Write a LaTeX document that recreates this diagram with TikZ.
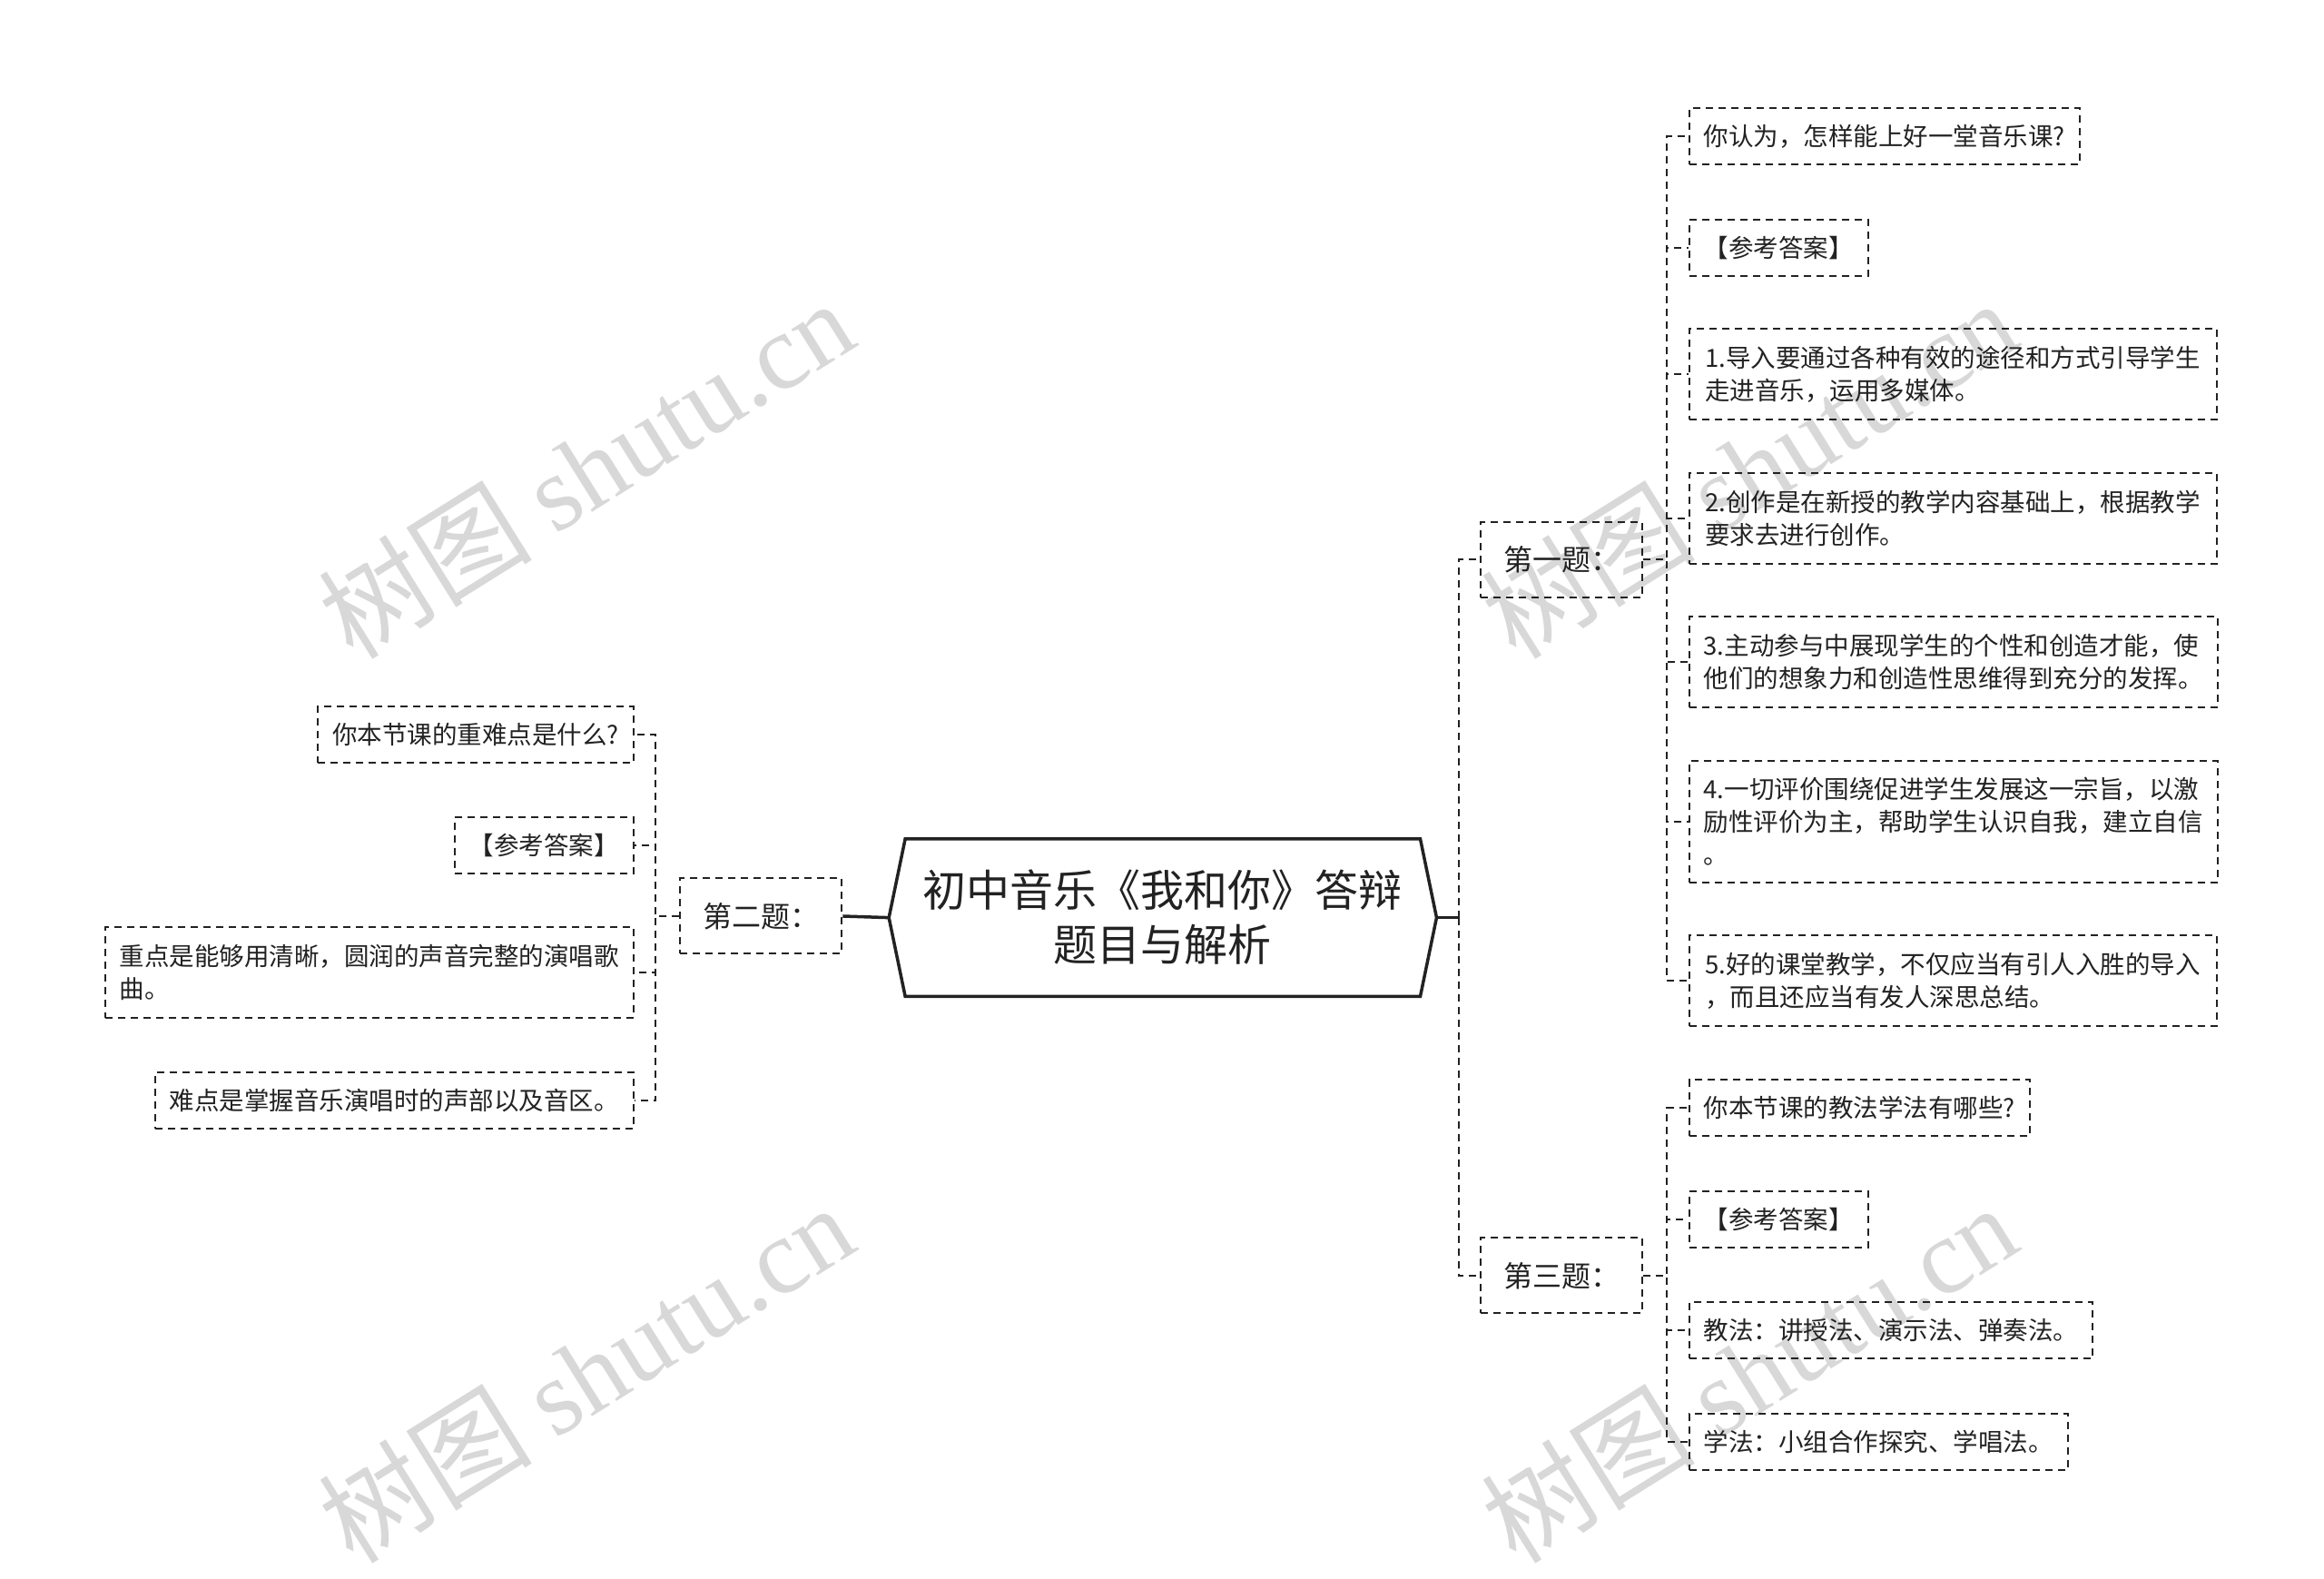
\documentclass[tikz,border=0pt]{standalone}
\usepackage{fontspec}
\setmainfont{Noto Sans CJK SC}
\newfontfamily\wmlatin{Liberation Serif}
\usetikzlibrary{calc}
\definecolor{ink}{HTML}{222222}
\definecolor{wmgray}{HTML}{D8D8D8}
\tikzset{
  leaf/.style={draw=ink, line width=2bp, dash pattern=on 8bp off 6bp, text=ink,
    font=\fontsize{27.5bp}{36bp}\selectfont, inner xsep=16bp, inner ysep=0pt,
    minimum height=62bp, align=left},
  twoline/.style={leaf, minimum width=581bp, minimum height=100bp},
  threeline/.style={leaf, minimum width=581bp, minimum height=134bp},
  branch/.style={draw=ink, line width=2bp, dash pattern=on 8bp off 6bp, text=ink,
    font=\fontsize{32bp}{36bp}\selectfont, inner sep=0pt,
    minimum width=178bp, minimum height=83bp},
  rootnode/.style={text=ink, font=\fontsize{48bp}{60bp}\selectfont, align=center,
    inner sep=0pt, minimum width=567bp, minimum height=173bp},
  hexline/.style={draw=ink, line width=3.5bp, line join=miter},
  conn/.style={draw=ink, line width=2bp, dash pattern=on 8bp off 6bp},
  trunk/.style={draw=ink, line width=3.5bp},
  wmark/.style={text=wmgray, rotate=32, inner sep=0pt}
}
\begin{document}
\begin{tikzpicture}[x=1.6327bp, y=-1.6327bp]
\fill[white] (0,0) rectangle (1568,1065);
\useasboundingbox (0,0) rectangle (1568,1065);

% watermarks
\node[wmark] (wm1) at (395,316) {\fontsize{118bp}{120bp}\selectfont 树图 {\wmlatin shutu.cn}};
\node[wmark] (wm2) at (395,926) {\fontsize{118bp}{120bp}\selectfont 树图 {\wmlatin shutu.cn}};
\node[wmark] (wm3) at (1180,316) {\fontsize{118bp}{120bp}\selectfont 树图 {\wmlatin shutu.cn}};
\node[wmark] (wm4) at (1180,926) {\fontsize{118bp}{120bp}\selectfont 树图 {\wmlatin shutu.cn}};

% root
\node[rootnode] (c) at (784.5,619) {初中音乐《我和你》答辩\\题目与解析};
\coordinate (cw) at ($(c.west)+(-11,0)$);
\coordinate (ce) at ($(c.east)+(11,0)$);
\draw[hexline] (c.north west) -- (c.north east) -- (ce) -- (c.south east) -- (c.south west) -- (cw) -- cycle;

% branches
\node[branch] (b1) at (1053.5,377.5) {第一题：};
\node[branch] (b2) at (513.5,618) {第二题：};
\node[branch] (b3) at (1053.5,860.5) {第三题：};

% first question children
\node[leaf, anchor=west] (r1) at (1139,92) {你认为，怎样能上好一堂音乐课?};
\node[leaf, anchor=west] (r2) at (1139,167) {【参考答案】};
\node[twoline, anchor=west] (r3) at (1139,252.5) {1.导入要通过各种有效的途径和方式引导学生\\走进音乐，运用多媒体。};
\node[twoline, anchor=west] (r4) at (1139,349.5) {2.创作是在新授的教学内容基础上，根据教学\\要求去进行创作。};
\node[twoline, anchor=west] (r5) at (1139,446.5) {3.主动参与中展现学生的个性和创造才能，使\\他们的想象力和创造性思维得到充分的发挥。};
\node[threeline, anchor=west] (r6) at (1139,554) {4.一切评价围绕促进学生发展这一宗旨，以激\\励性评价为主，帮助学生认识自我，建立自信\\。};
\node[twoline, anchor=west] (r7) at (1139,661.5) {5.好的课堂教学，不仅应当有引人入胜的导入\\，而且还应当有发人深思总结。};

% third question children
\node[leaf, anchor=west] (t1) at (1139,747.5) {你本节课的教法学法有哪些?};
\node[leaf, anchor=west] (t2) at (1139,822.5) {【参考答案】};
\node[leaf, anchor=west] (t3) at (1139,897.5) {教法：讲授法、演示法、弹奏法。};
\node[leaf, anchor=west] (t4) at (1139,972.5) {学法：小组合作探究、学唱法。};

% second question children
\node[leaf, anchor=east] (l1) at (428,495.5) {你本节课的重难点是什么?};
\node[leaf, anchor=east] (l2) at (428,570) {【参考答案】};
\node[twoline, anchor=east] (l3) at (428,656) {重点是能够用清晰，圆润的声音完整的演唱歌\\曲。};
\node[leaf, anchor=east] (l4) at (428,742.5) {难点是掌握音乐演唱时的声部以及音区。};

% connectors
\coordinate (rj) at (984,619);
\draw[trunk] (ce) -- (rj);
\draw[conn] (rj) |- (b1.west);
\draw[conn] (rj) |- (b3.west);
\draw[trunk] (cw) -- (b2.east);

\foreach \n in {r1,r2,r3,r4,r5,r6,r7}{
  \draw[conn] (b1.east) -- ++(16,0) |- (\n.west);
}
\foreach \n in {t1,t2,t3,t4}{
  \draw[conn] (b3.east) -- ++(16,0) |- (\n.west);
}
\foreach \n in {l1,l2,l3,l4}{
  \draw[conn] (b2.west) -- ++(-16,0) |- (\n.east);
}
\end{tikzpicture}
\end{document}
